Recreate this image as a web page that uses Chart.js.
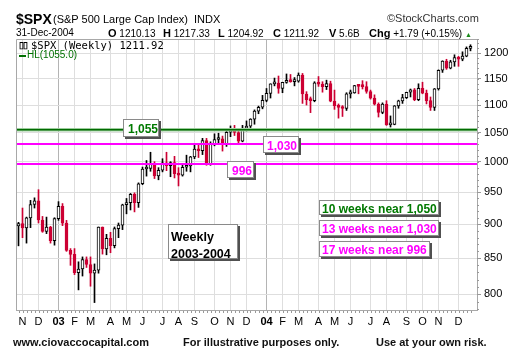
<!DOCTYPE html>
<html><head><meta charset="utf-8">
<script src="https://cdn.jsdelivr.net/npm/chart.js@4.4.0/dist/chart.umd.min.js"></script>
<style>
html,body{margin:0;padding:0;background:#fff;}
#wrap{position:relative;width:520px;height:363px;overflow:hidden;font-family:"Liberation Sans",Arial,sans-serif;}
canvas{position:absolute;left:0;top:0;}
.t{position:absolute;white-space:nowrap;color:#000;line-height:1;}
.box{position:absolute;background:#fff;border:1px solid #8a8a8a;box-shadow:2px 2px 0 #505050;font-weight:bold;font-size:12px;line-height:1;white-space:nowrap;box-sizing:border-box;}
</style></head><body>
<div id="wrap">
<canvas id="c" width="520" height="363"></canvas>

<div class="t" style="left:16px;top:12px;font-size:14px;font-weight:bold;">$SPX</div>
<div class="t" style="left:53px;top:14px;font-size:11px;">(S&amp;P 500 Large Cap Index)&nbsp; INDX</div>
<div class="t" style="left:387px;top:13px;font-size:11px;color:#333;">©StockCharts.com</div>
<div class="t" style="left:16px;top:28px;font-size:10px;">31-Dec-2004</div>
<div class="t" style="left:108px;top:28px;font-size:10px;"><b style="font-size:11px">O</b> 1210.13</div>
<div class="t" style="left:163px;top:28px;font-size:10px;"><b style="font-size:11px">H</b> 1217.33</div>
<div class="t" style="left:218px;top:28px;font-size:10px;"><b style="font-size:11px">L</b> 1204.92</div>
<div class="t" style="left:273px;top:28px;font-size:10px;"><b style="font-size:11px">C</b> 1211.92</div>
<div class="t" style="left:329px;top:28px;font-size:10px;"><b style="font-size:11px">V</b> 5.6B</div>
<div class="t" style="left:369px;top:28px;font-size:10px;"><b style="font-size:11px">Chg</b> +1.79 (+0.15%) <span style="color:#1a8a1a;font-size:7px;">▲</span></div>

<div class="t" style="left:19px;top:41px;font-size:9px;font-weight:bold;letter-spacing:-1px;">▯▯</div>
<div class="t" style="left:31px;top:40px;font-size:10.5px;font-family:'DejaVu Sans Mono',monospace;">$SPX (Weekly) 1211.92</div>
<div style="position:absolute;left:19px;top:55px;width:7px;height:2px;background:#007000;"></div>
<div class="t" style="left:27px;top:50px;font-size:10px;color:#007000;">HL(1055.0)</div>

<div class="box" style="left:123px;top:119px;width:36px;height:18px;color:#007a00;padding:3px 0 0 4px;">1,055</div>
<div class="box" style="left:263px;top:136px;width:36px;height:17px;color:#ff00ff;padding:3px 0 0 3px;">1,030</div>
<div class="box" style="left:227px;top:161px;width:27px;height:17px;color:#ff00ff;padding:3px 0 0 4px;">996</div>
<div class="box" style="left:168px;top:224px;width:70px;height:35px;color:#000;padding:4px 0 0 2px;font-size:12.5px;line-height:17px;">Weekly<br>2003-2004</div>
<div class="box" style="left:319px;top:200px;width:120px;height:15px;color:#007a00;padding:2px 0 0 2px;">10 weeks near 1,050</div>
<div class="box" style="left:319px;top:220px;width:120px;height:16px;color:#ff00ff;padding:2px 0 0 2px;">13 weeks near 1,030</div>
<div class="box" style="left:319px;top:241px;width:111px;height:16px;color:#ff00ff;padding:2px 0 0 2px;">17 weeks near 996</div>

<div class="t" style="left:13px;top:337px;font-size:11px;font-weight:bold;color:#111;">www.ciovaccocapital.com</div>
<div class="t" style="left:183px;top:337px;font-size:11px;font-weight:bold;color:#111;">For illustrative purposes only.</div>
<div class="t" style="left:376px;top:337px;font-size:11px;font-weight:bold;color:#111;">Use at your own risk.</div>
</div>

<script>
// Weekly $SPX bars, week ending 1-Nov-2002 (index 0) to 31-Dec-2004 (index 113)
const opens = [897.6,900.96,894.74,909.83,930.55,936.31,906.55,889.48,895.76,875.40,
908.59,927.57,901.78,861.40,855.70,829.69,834.89,848.17,841.15,828.89,
833.27,895.79,863.50,878.85,868.30,893.58,898.81,930.08,933.41,946.67,
933.22,963.59,987.76,988.61,995.69,976.22,985.70,998.14,993.32,998.68,
980.15,977.59,990.67,993.06,1008.01,1021.39,1018.63,1036.30,996.85,1029.85,
1038.06,1039.32,1028.91,1050.71,1053.21,1050.35,1035.28,1058.20,1061.50,1074.14,
1088.66,1095.89,1108.48,1121.86,1139.83,1141.55,1131.13,1142.76,1145.81,1144.11,
1144.94,1156.86,1120.57,1109.78,1108.06,1141.81,1139.32,1134.61,1140.60,1107.30,
1098.70,1095.70,1093.56,1120.68,1122.50,1136.47,1135.02,1134.43,1125.38,1112.81,
1101.39,1086.20,1101.72,1063.97,1064.80,1098.35,1107.77,1113.63,1123.92,1128.55,
1110.11,1131.50,1122.14,1108.20,1095.74,1130.20,1166.17,1184.17,1170.34,1182.65,
1191.17,1188.00,1194.20,1210.13];
const highs = [903,925,911,937,941,954,912,911,897,910,
935,932,906,864,864,845,852,852,852,842,
896,896,885,888,896,902,931,940,948,949,
965,991,1002,1016,1000,990,1005,1016,1000,1009,
990,994,1011,1009,1029,1031,1040,1040,1034,1048,
1049,1044,1054,1062,1063,1053,1063,1071,1075,1091,
1098,1118,1131,1140,1151,1155,1143,1159,1158,1152,
1161,1160,1125,1115,1144,1154,1144,1147,1145,1128,
1102,1099,1123,1128,1137,1138,1146,1144,1128,1119,
1104,1104,1108,1080,1099,1109,1120,1124,1130,1131,
1140,1143,1128,1115,1131,1167,1185,1188,1186,1197,
1194,1203,1213,1217.33];
const lows = [868,880,872,895,925,902,888,886,872,869,
906,898,860,840,827,806,825,837,811,789,
829,856,855,858,865,880,892,916,922,919,
926,962,976,984,972,970,983,985,975,973,
960,976,984,983,1005,1007,1012,994,994,1027,
1031,1018,1026,1043,1045,1031,1034,1053,1059,1065,
1084,1093,1106,1113,1136,1122,1123,1141,1143,1136,
1143,1103,1100,1086,1106,1135,1124,1129,1106,1092,
1076,1079,1090,1113,1122,1121,1130,1122,1111,1100,
1078,1084,1063,1060,1064,1094,1103,1112,1115,1108,
1108,1121,1102,1090,1090,1128,1162,1168,1169,1174,
1174,1185,1193,1204.92];
const closes = [900.96,894.74,909.83,930.55,936.31,906.55,889.48,895.76,875.40,908.59,
927.57,901.78,861.40,855.70,829.69,834.89,848.17,841.15,828.89,833.27,
895.79,863.50,878.85,868.30,893.58,898.81,930.08,933.41,946.67,933.22,
963.59,987.76,988.61,995.69,976.22,985.70,998.14,993.32,998.68,980.15,
977.59,990.67,993.06,1008.01,1021.39,1018.63,1036.30,996.85,1029.85,1038.06,
1039.32,1028.91,1050.71,1053.21,1050.35,1035.28,1058.20,1061.50,1074.14,1088.66,
1095.89,1108.48,1121.86,1139.83,1141.55,1131.13,1142.76,1145.81,1144.11,1144.94,
1156.86,1120.57,1109.78,1108.06,1141.81,1139.32,1134.61,1140.60,1107.30,1098.70,
1095.70,1093.56,1120.68,1122.50,1136.47,1135.02,1134.43,1125.38,1112.81,1101.39,
1086.20,1101.72,1063.97,1064.80,1098.35,1107.77,1113.63,1123.92,1128.55,1110.11,
1131.50,1122.14,1108.20,1095.74,1130.20,1166.17,1184.17,1170.34,1182.65,1191.17,
1188.00,1194.20,1210.13,1211.92];

// First weekly bar of each month (index) and its axis label
const monthIdx = [1,5,10,14,18,23,27,31,36,40,44,49,53,57,62,66,70,75,79,83,88,92,97,101,105,110];
const monthLbl = ['N','D','03','F','M','A','M','J','J','A','S','O','N','D','04','F','M','A','M','J','J','A','S','O','N','D'];
const yTicks = [800,850,900,950,1000,1050,1100,1150,1200];
const levelValues = [1055,1030,996];
const levelColors = ['#006b00','#ff00ff','#ff00ff'];

const RED = '#cc0033';
const N = closes.length;
const idx = closes.map((_, i) => i);
const lineColor = idx.map(i => closes[i] < (i ? closes[i-1] : opens[i]) ? RED : '#000');
const bodyFill = idx.map(i => closes[i] < opens[i] ? lineColor[i] : '#ffffff');

const bodyData = idx.map(i => ({x: i, y: [Math.min(opens[i], closes[i]), Math.max(opens[i], closes[i])]}));
const wickData = idx.map(i => ({x: i, y: [lows[i], highs[i]]}));

const frame = {
  id: 'frame',
  beforeDatasetsDraw(chart) {
    const {ctx, chartArea: a} = chart;
    ctx.save();
    ctx.strokeStyle = '#a8a8a8';
    ctx.lineWidth = 1;
    ctx.beginPath();
    ctx.moveTo(a.left + 0.5, a.bottom); ctx.lineTo(a.left + 0.5, a.top + 0.5); ctx.lineTo(a.right, a.top + 0.5);
    ctx.stroke();
    const xs = chart.scales.x;
    ctx.strokeStyle = '#999';
    ctx.beginPath();
    for (let i = 0; i < N; i++) {
      const px = Math.round(xs.getPixelForValue(i)) + 0.5;
      ctx.moveTo(px, a.bottom + 1); ctx.lineTo(px, a.bottom + 3);
    }
    ctx.stroke();
    const ys = chart.scales.y;
    ctx.beginPath();
    for (let v = 780; v <= 1230; v += 10) {
      const py = Math.round(ys.getPixelForValue(v)) + 0.5;
      ctx.moveTo(a.right, py); ctx.lineTo(a.right + 2, py);
    }
    ctx.stroke();
    ctx.restore();
  },
  afterDatasetsDraw(chart) {
    const {ctx, chartArea: a} = chart;
    const ys = chart.scales.y;
    ctx.save();
    levelValues.forEach((v, k) => {
      const py = ys.getPixelForValue(v);
      if (k === 0) {
        ctx.strokeStyle = '#9ccc9c'; ctx.lineWidth = 3.5;
        ctx.beginPath(); ctx.moveTo(a.left + 1, py); ctx.lineTo(a.right, py); ctx.stroke();
        ctx.strokeStyle = levelColors[k]; ctx.lineWidth = 1.5;
      } else {
        ctx.strokeStyle = levelColors[k]; ctx.lineWidth = 2;
      }
      ctx.beginPath(); ctx.moveTo(a.left + 1, py); ctx.lineTo(a.right, py); ctx.stroke();
    });
    ctx.restore();
  }
};

new Chart(document.getElementById('c'), {
  type: 'bar',
  data: {
    datasets: [
      {data: bodyData, backgroundColor: bodyFill, borderColor: lineColor, borderWidth: 1,
       borderSkipped: false, barThickness: 3, minBarLength: 2, grouped: false, order: 0},
      {data: wickData, backgroundColor: lineColor, borderWidth: 0,
       barThickness: 1, grouped: false, order: 1}
    ]
  },
  options: {
    responsive: false,
    animation: false,
    events: [],
    layout: {padding: {left: 16, top: 39, right: 0, bottom: 0}},
    plugins: {legend: {display: false}, tooltip: {enabled: false}},
    scales: {
      x: {
        type: 'linear', min: -0.625, max: 114.625, offset: false,
        afterBuildTicks: s => { s.ticks = monthIdx.map(v => ({value: v})); },
        afterFit: s => { s.height = 53; },
        grid: {
          offset: false, drawTicks: false,
          color: c => (monthLbl[c.index] === '03' || monthLbl[c.index] === '04') ? '#b4b4b4' : '#dedede'
        },
        border: {display: true, color: '#a8a8a8'},
        ticks: {
          autoSkip: false, maxRotation: 0, padding: 5, color: '#000',
          callback: v => { const k = monthIdx.indexOf(v); return k >= 0 ? monthLbl[k] : ''; },
          font: c => ({family: 'Liberation Sans', size: 11,
            weight: /\d/.test(monthLbl[c.index] || '') ? 'bold' : 'normal'})
        }
      },
      y: {
        type: 'logarithmic', position: 'right', min: 779.2, max: 1229.2,
        afterBuildTicks: s => { s.ticks = yTicks.map(v => ({value: v})); },
        afterFit: s => { s.width = 43; },
        grid: {color: '#dedede', drawTicks: true, tickLength: 4, tickColor: '#999'},
        border: {display: true, color: '#a8a8a8'},
        ticks: {padding: 3, color: '#000', font: {family: 'Liberation Sans', size: 11},
          callback: v => String(v)}
      }
    }
  },
  plugins: [frame]
});
</script>
</body></html>
